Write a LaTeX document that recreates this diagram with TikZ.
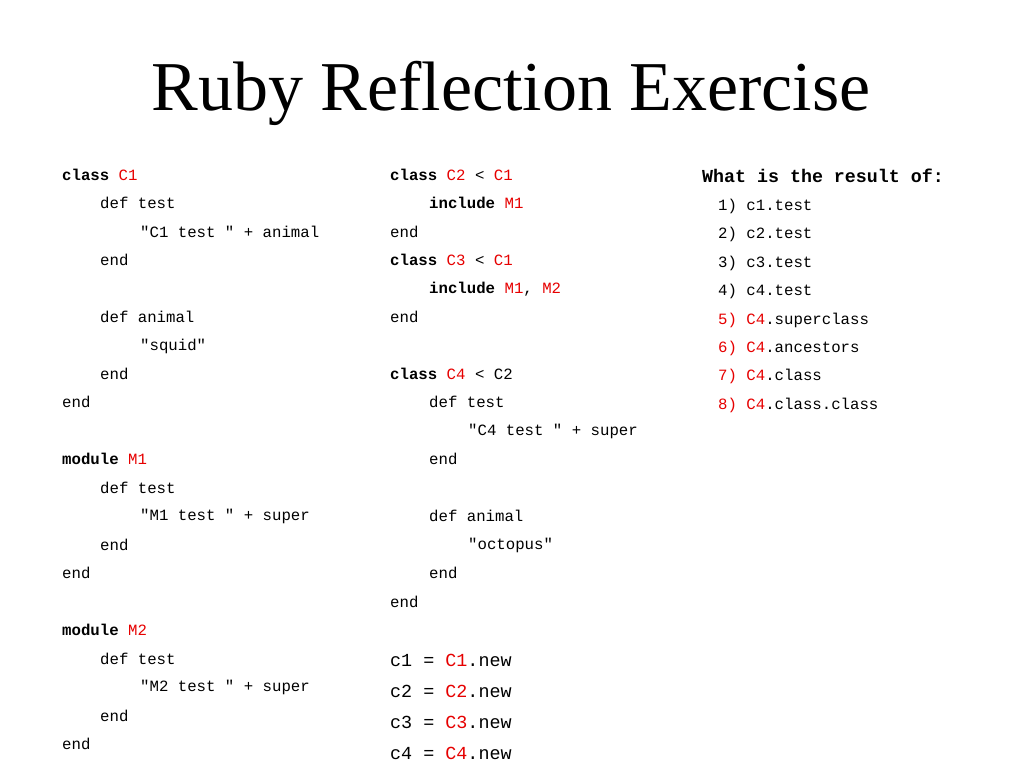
\documentclass[tikz,border=0pt]{standalone}
\usepackage{fontspec}
\setmainfont{Liberation Serif}
\setmonofont{Liberation Mono}
\definecolor{kwred}{RGB}{230,0,0}
\newcommand{\kw}[1]{\textbf{#1}}
\newcommand{\rd}[1]{\textcolor{kwred}{#1}}
\tikzset{
  code/.style={anchor=west, inner sep=0, font=\ttfamily\fontsize{15.7}{15.7}\selectfont},
  bigcode/.style={code, font=\ttfamily\fontsize{18.4}{18.4}\selectfont},
}
\begin{document}
\begin{tikzpicture}[x=1pt,y=-1pt]
\useasboundingbox (0,0) rectangle (1024,768);
\node[inner sep=0, font=\fontsize{70}{70}\selectfont] (title) at (511,93) {Ruby Reflection Exercise};
% left column
\node[code] (a1) at (62,175) {\kw{class} \rd{C1}};
\node[code] (a2) at (100,203) {def test};
\node[code] (a3) at (140,232) {"C1 test " + animal};
\node[code] (a4) at (100,260) {end};
\node[code] (a5) at (100,317) {def animal};
\node[code] (a6) at (140,346) {"squid"};
\node[code] (a7) at (100,374) {end};
\node[code] (a8) at (62,402) {end};
\node[code] (a9) at (62,459) {\kw{module} \rd{M1}};
\node[code] (a10) at (100,488) {def test};
\node[code] (a11) at (140,516) {"M1 test " + super};
\node[code] (a12) at (100,545) {end};
\node[code] (a13) at (62,573) {end};
\node[code] (a14) at (62,630) {\kw{module} \rd{M2}};
\node[code] (a15) at (100,659) {def test};
\node[code] (a16) at (140,687) {"M2 test " + super};
\node[code] (a17) at (100,716) {end};
\node[code] (a18) at (62,744) {end};
% middle column
\node[code] (b1) at (390,175) {\kw{class} \rd{C2} < \rd{C1}};
\node[code] (b2) at (429,203) {\kw{include} \rd{M1}};
\node[code] (b3) at (390,232) {end};
\node[code] (b4) at (390,260) {\kw{class} \rd{C3} < \rd{C1}};
\node[code] (b5) at (429,289) {\kw{include} \rd{M1}, \rd{M2}};
\node[code] (b6) at (390,317) {end};
\node[code] (b7) at (390,374) {\kw{class} \rd{C4} < C2};
\node[code] (b8) at (429,402) {def test};
\node[code] (b9) at (468,431) {"C4 test " + super};
\node[code] (b10) at (429,459) {end};
\node[code] (b11) at (429,516) {def animal};
\node[code] (b12) at (468,545) {"octopus"};
\node[code] (b13) at (429,573) {end};
\node[code] (b14) at (390,602) {end};
\node[bigcode] (c1) at (390,660) {c1 = \rd{C1}.new};
\node[bigcode] (c2) at (390,691) {c2 = \rd{C2}.new};
\node[bigcode] (c3) at (390,722) {c3 = \rd{C3}.new};
\node[bigcode] (c4) at (390,753) {c4 = \rd{C4}.new};
% right column
\node[code, font=\ttfamily\bfseries\fontsize{18.3}{18.3}\selectfont] (q) at (702,176) {What is the result of:};
\node[code] (q1) at (718,206) {1)\ c1.test};
\node[code] (q2) at (718,234) {2)\ c2.test};
\node[code] (q3) at (718,263) {3)\ c3.test};
\node[code] (q4) at (718,291) {4)\ c4.test};
\node[code] (q5) at (718,320) {\rd{5)\ C4}.superclass};
\node[code] (q6) at (718,348) {\rd{6)\ C4}.ancestors};
\node[code] (q7) at (718,376) {\rd{7)\ C4}.class};
\node[code] (q8) at (718,405) {\rd{8)\ C4}.class.class};
\end{tikzpicture}
\end{document}
